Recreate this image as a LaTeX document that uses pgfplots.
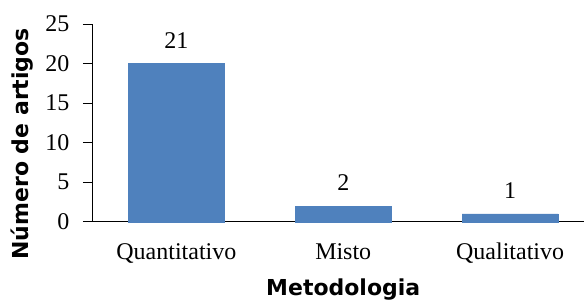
\documentclass[border=0pt]{standalone}
\usepackage{pgfplots}
\pgfplotsset{compat=1.18}
\usepackage{fontspec}
\setmainfont{Liberation Serif}
\newfontfamily\labelfont{DejaVu Sans}
\definecolor{barblue}{HTML}{4F81BD}
\begin{document}
\begin{tikzpicture}
\begin{axis}[
  scale only axis,
  width=491pt, height=198pt,
  xmin=-0.5, xmax=2.44,
  ymin=0, ymax=25,
  ytick={0,5,10,15,20,25},
  xtick=data,
  xticklabels={Quantitativo,Misto,Qualitativo},
  axis x line=bottom, axis y line=left,
  axis line style={-, black, line width=0.9pt},
  tick align=outside,
  major tick length=10pt,
  y tick style={black, line width=0.9pt},
  x tick style={draw=none},
  /pgf/number format/assume math mode=true,
  tick label style={font=\fontsize{24}{28}\selectfont},
  xticklabel style={yshift=-8pt},
  yticklabel style={xshift=-10pt},
  ylabel={Número de artigos},
  xlabel={Metodologia},
  label style={font=\labelfont\bfseries\fontsize{22}{26}\selectfont},
  ylabel style={at={(axis description cs:0,0.394)}, anchor=center, yshift=71pt},
  xlabel style={at={(axis description cs:0.5,0)}, anchor=center, yshift=-68pt, xshift=5pt},
  ybar, bar width=96pt,
  nodes near coords,
  point meta=explicit symbolic,
  nodes near coords style={font=\fontsize{24}{28}\selectfont, anchor=south, inner sep=0pt, yshift=15pt},
  clip=false,
]
\addplot[fill=barblue, draw=barblue] coordinates {(0,20) [21] (1,2) [2] (2,1) [1]};
\end{axis}
\path[use as bounding box] ([xshift=-93pt,yshift=-78pt]current axis.south west) rectangle ++(584pt,300pt);
\end{tikzpicture}
\end{document}
